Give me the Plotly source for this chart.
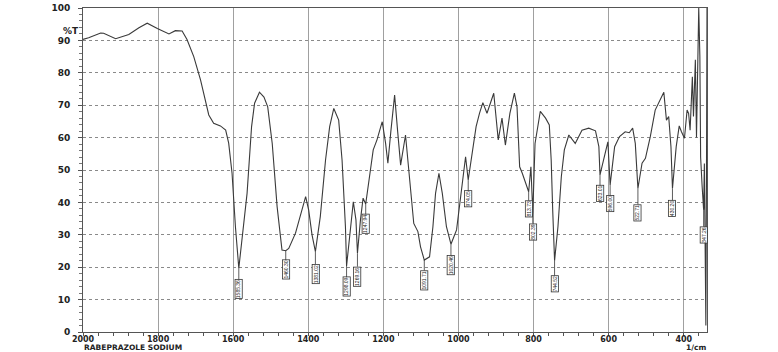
import plotly.graph_objects as go

# Spectrum (wavenumber in 1/cm, %T)
wavenumber = [2000, 1985, 1953, 1945, 1913, 1878, 1851, 1829, 1802, 1771, 1754, 1736, 1723,
              1705, 1687, 1665, 1652, 1634, 1620, 1612, 1603, 1594, 1585, 1574, 1563, 1551,
              1543, 1530, 1518, 1508, 1496, 1483, 1470, 1460, 1452, 1434, 1421, 1407, 1399,
              1390, 1381, 1368, 1354, 1343, 1332, 1319, 1310, 1301, 1298, 1288, 1280, 1273,
              1269, 1261, 1254, 1247, 1236, 1227, 1217, 1203, 1194, 1188, 1180, 1170, 1162,
              1154, 1141, 1128, 1119, 1108, 1101, 1091, 1077, 1068, 1061, 1052, 1043, 1032,
              1020, 1005, 995, 981, 974, 962, 953, 944, 935, 924, 906, 894, 884, 875, 863,
              851, 844, 837, 830, 813, 807, 802, 796, 782, 768, 758, 753, 749, 744, 735,
              726, 718, 706, 689, 671, 653, 635, 626, 623, 602, 596, 584, 571, 556, 545,
              536, 529, 522, 511, 502, 489, 476, 462, 453, 446, 440, 434, 430, 420, 412,
              406, 398, 391, 387, 383, 377, 374, 369, 366, 362, 360, 357, 355, 351, 347,
              345, 343, 341, 339, 338]
transmittance = [90.3, 90.8, 92.3, 92.2, 90.5, 91.8, 93.9, 95.3, 93.7, 92.0, 93.0, 92.9, 90.3,
                 85.0, 77.8, 67.0, 64.4, 63.6, 62.3, 58.3, 49.0, 32.5, 19.7, 31.0, 42.8, 63.4,
                 70.6, 74.0, 72.5, 69.5, 58.2, 38.7, 25.3, 25.1, 25.8, 30.5, 35.6, 41.8, 37.7,
                 30.0, 24.8, 35.6, 53.1, 63.4, 69.0, 65.4, 53.1, 32.5, 20.4, 30.5, 40.2, 34.6,
                 24.3, 34.6, 41.3, 39.5, 47.9, 56.2, 59.3, 64.9, 58.2, 52.1, 62.0, 73.1, 62.0,
                 51.5, 60.8, 44.8, 33.5, 31.0, 26.3, 22.2, 23.2, 32.5, 42.8, 49.0, 42.8, 32.5,
                 27.1, 31.5, 40.7, 54.1, 46.9, 57.2, 63.4, 67.5, 70.8, 67.5, 73.7, 59.3, 66.0,
                 57.7, 67.5, 73.7, 69.5, 51.0, 49.0, 43.3, 51.0, 36.5, 58.2, 68.1, 66.0, 63.9,
                 53.1, 37.7, 22.0, 32.5, 47.9, 56.2, 60.8, 58.2, 62.3, 62.9, 62.1, 57.2, 48.5,
                 58.7, 45.4, 57.2, 60.3, 61.8, 61.5, 62.9, 58.2, 44.3, 52.1, 53.6, 60.3, 68.5,
                 72.1, 74.0, 65.4, 66.5, 57.2, 44.3, 57.2, 63.6, 61.8, 59.8, 68.5, 67.5, 62.3,
                 78.8, 66.5, 84.0, 60.0, 88.0, 100.0, 85.0, 54.0, 45.0, 37.7, 52.0, 20.0, 2.0,
                 60.0, 100.0]

# Peak labels printed under the minima
peak_labels = ["1585.36", "1460.30", "1381.02", "1298.09", "1269.16", "1247.94", "1091.71",
               "1020.46", "974.05", "813.73", "802.39", "744.52", "623.01", "596.00",
               "522.71", "430.20", "347.26"]
peak_offsets = [21, 19, 22, 21, 23, 20, 20, 21, 19, 17, 18, 23, 19, 19, 24, 20, 25]

x_tickvals = [2000, 1800, 1600, 1400, 1200, 1000, 800, 600, 400]
y_tickvals = [0, 10, 20, 30, 40, 50, 60, 70, 80, 90, 100]

L, R, T, B = 83, 71, 8, 20
W, H = 778, 352
plot_w = W - L - R
plot_h = H - T - B

fig = go.Figure()
fig.add_trace(go.Scatter(x=wavenumber, y=transmittance, mode="lines",
                         line=dict(color="#3a3a3a", width=1.1), hoverinfo="skip"))

annotations = []
for lab, off in zip(peak_labels, peak_offsets):
    w = round(float(lab))
    idx = min(range(len(wavenumber)), key=lambda i: abs(wavenumber[i] - w))
    annotations.append(dict(
        x=wavenumber[idx], y=transmittance[idx], xref="x", yref="y",
        text=lab, textangle=-90, showarrow=True, arrowhead=0, arrowwidth=0.8,
        arrowcolor="#333", ax=0, ay=off,
        font=dict(family="Liberation Sans Narrow, Liberation Sans, sans-serif", size=5, color="#222"),
        bordercolor="#333", borderwidth=0.8, borderpad=0, bgcolor="white"))

bold = dict(family="DejaVu Sans", color="#222", weight="bold")
annotations += [
    dict(text="%T", x=(61 - L) / plot_w, y=(H - B - 24) / plot_h, xref="paper", yref="paper",
         showarrow=False, font=dict(size=9, **bold)),
    dict(text="RABEPRAZOLE SODIUM", x=0, y=-(B + 1) / plot_h, xref="paper", yref="paper",
         xanchor="left", yanchor="bottom", showarrow=False, borderpad=0,
         font=dict(size=7.5, **bold)),
    dict(text="1/cm", x=1, y=-(B + 1) / plot_h, xref="paper", yref="paper",
         xanchor="right", yanchor="bottom", showarrow=False, borderpad=0,
         font=dict(size=7.5, **bold)),
]

fig.update_layout(
    width=W, height=H,
    margin=dict(l=L, r=R, t=T, b=B, autoexpand=False),
    paper_bgcolor="white", plot_bgcolor="white",
    showlegend=False,
    annotations=annotations,
    font=dict(family="DejaVu Sans", color="#222"),
)
fig.update_xaxes(
    range=[2000, 338], tickvals=x_tickvals, ticktext=[str(v) for v in x_tickvals],
    showline=True, linecolor="#555", linewidth=1, mirror=True, automargin=False,
    showgrid=True, gridcolor="#a0a0a0", gridwidth=1,
    ticks="outside", ticklen=3, tickcolor="#555", ticklabelstandoff=-4,
    tickfont=dict(size=8, **bold),
    minor=dict(dtick=40, tick0=0, ticks="outside", ticklen=3, tickcolor="#555", showgrid=False),
    zeroline=False,
)
fig.update_yaxes(
    range=[0, 100], tickvals=y_tickvals, ticktext=[str(v) for v in y_tickvals],
    showline=True, linecolor="#555", linewidth=1, mirror=True, automargin=False,
    showgrid=True, gridcolor="#8a8a8a", gridwidth=1, griddash="dot",
    ticks="outside", ticklen=4, tickcolor="#555", ticklabelstandoff=6,
    tickfont=dict(size=9, **bold),
    minor=dict(dtick=2, ticks="outside", ticklen=3, tickcolor="#777", showgrid=False),
    zeroline=False,
)

fig.write_html("out.html")
